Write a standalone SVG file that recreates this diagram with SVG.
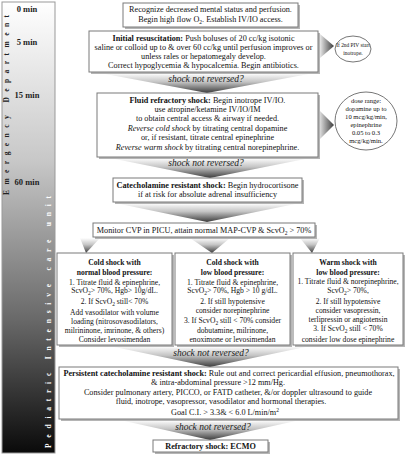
<svg xmlns="http://www.w3.org/2000/svg" width="407" height="456" viewBox="0 0 407 456">
<defs>
<linearGradient id="side" x1="0" y1="0" x2="0" y2="1">
<stop offset="0" stop-color="#ffffff"/>
<stop offset="0.35" stop-color="#c8c8c8"/>
<stop offset="0.7" stop-color="#6a6a6a"/>
<stop offset="1" stop-color="#0a0a0a"/>
</linearGradient>
<linearGradient id="dg" x1="0" y1="0" x2="0" y2="1">
<stop offset="0" stop-color="#ffffff"/>
<stop offset="0.45" stop-color="#c4c4c4"/>
<stop offset="1" stop-color="#3c3c3c"/>
</linearGradient>
<linearGradient id="rg" x1="0" y1="0" x2="1" y2="0">
<stop offset="0" stop-color="#e8e8e8"/>
<stop offset="1" stop-color="#3c3c3c"/>
</linearGradient>
<style>
text{font-family:"Liberation Serif","Times New Roman",serif;fill:#111;}
.t{font-size:8.2px;text-anchor:middle;}
.c{font-size:7.6px;text-anchor:middle;}
.b{font-weight:bold;}
.i{font-style:italic;}
.snr{font-size:9.5px;font-style:italic;text-anchor:middle;fill:#222;}
.box{fill:#fff;stroke:#7a7a7a;stroke-width:1;}
.sh{fill:#b5b5b5;}
.min{font-size:8.5px;font-weight:bold;text-anchor:middle;fill:#222;}
.ed{font-size:7.5px;font-weight:bold;fill:#222;}
.pi{font-size:7.5px;font-weight:bold;fill:#fff;}
.sub{font-size:5.5px;}
.arw{fill:url(#dg);}
.arr{fill:url(#rg);}
.ell{fill:#fff;stroke:#777;stroke-width:1;}
.e{font-size:6.6px;text-anchor:middle;}
.es{font-size:5.4px;text-anchor:middle;}
</style>
</defs>

<g id="sidebar">
<rect x="2" y="2" width="53" height="451" fill="url(#side)" stroke="#999" stroke-width="1"/>
<text class="min" x="27" y="12">0 min</text>
<text class="min" x="27" y="45">5 min</text>
<text class="min" x="27" y="98">15 min</text>
<text class="min" x="27" y="185">60 min</text>
<text class="ed" transform="translate(8.5,195) rotate(-90)" textLength="180" lengthAdjust="spacing">Emergency Department</text>
<text class="pi" transform="translate(50.5,448) rotate(-90)" textLength="252" lengthAdjust="spacing">Pediatric Intensive care unit</text>
</g>

<g id="connectors">
<path class="arw" d="M100,73 Q207,76 314,73 L207,93 Z"/>
<path class="arw" d="M110,158 Q210,161 310,158 L210,178 Z"/>
<path class="arw" d="M115,203 Q207,206 300,203 L207,222 Z"/>
<path class="arw" d="M80,238 L100,238 L86,253 Z"/>
<path class="arw" d="M190,238 L230,238 L212,253 Z"/>
<path class="arw" d="M300,238 L320,238 L312,253 Z"/>
<path class="arw" d="M110,346 Q210,349 310,346 L210,367 Z"/>
<path class="arw" d="M120,420 Q210,423 300,420 L210,440 Z"/>
<path class="arr" d="M320,34 L320,58 L334,46 Z"/>
<path class="arr" d="M319,110 L319,140 L334,125 Z"/>
<text class="snr" x="206" y="82">shock not reversed?</text>
<text class="snr" x="206" y="166">shock not reversed?</text>
<text class="snr" x="211" y="356">shock not reversed?</text>
<text class="snr" x="213" y="430">shock not reversed?</text>
</g>

<g id="recognize">
<rect class="sh" x="125" y="5" width="175" height="24"/>
<rect class="box" x="123" y="3" width="175" height="24"/>
<text class="t" x="210.5" y="12">Recognize decreased mental status and perfusion.</text>
<text class="t" x="210.5" y="22">Begin high flow O<tspan class="sub" dy="2">2</tspan><tspan dy="-2">.  Establish IV/IO access.</tspan></text>
</g>

<g id="initial">
<rect class="sh" x="91" y="33" width="229" height="41"/>
<rect class="box" x="89" y="31" width="229" height="41"/>
<text class="t" x="203.5" y="41"><tspan class="b">Initial resuscitation:</tspan> Push boluses of 20 cc/kg isotonic</text>
<text class="t" x="203.5" y="50">saline or colloid up to &amp; over 60 cc/kg until perfusion improves or</text>
<text class="t" x="203.5" y="59">unless rales or hepatomegaly develop.</text>
<text class="t" x="203.5" y="68">Correct hypoglycemia &amp; hypocalcemia. Begin antibiotics.</text>
</g>

<g id="piv">
<ellipse class="ell" cx="353" cy="49" rx="18" ry="13"/>
<text class="es" x="353" y="47">If 2nd PIV start</text>
<text class="es" x="353" y="55">inotrope.</text>
</g>

<g id="fluid">
<rect class="sh" x="99" y="95" width="221" height="64"/>
<rect class="box" x="97" y="93" width="221" height="64"/>
<text class="t" x="207.5" y="103"><tspan class="b">Fluid refractory shock:</tspan> Begin inotrope IV/IO.</text>
<text class="t" x="207.5" y="112">use atropine/ketamine IV/IO/IM</text>
<text class="t" x="207.5" y="121">to obtain central access &amp; airway if needed.</text>
<text class="t" x="207.5" y="131"><tspan class="i">Reverse cold shock</tspan> by titrating central dopamine</text>
<text class="t" x="207.5" y="140">or, if resistant, titrate central epinephrine</text>
<text class="t" x="207.5" y="150"><tspan class="i">Reverse warm shock</tspan> by titrating central  norepinephrine.</text>
</g>

<g id="dose">
<ellipse class="ell" cx="366" cy="121" rx="31" ry="29"/>
<text class="e" x="366" y="103">dose range:</text>
<text class="e" x="366" y="111">dopamine up to</text>
<text class="e" x="366" y="119">10 mcg/kg/min,</text>
<text class="e" x="366" y="127">epinephrine</text>
<text class="e" x="366" y="135">0.05 to 0.3</text>
<text class="e" x="366" y="143">mcg/kg/min.</text>
</g>

<g id="catechol">
<rect class="sh" x="115" y="180" width="189" height="24"/>
<rect class="box" x="113" y="178" width="189" height="24"/>
<text class="t" x="207.5" y="188"><tspan class="b">Catecholamine resistant shock:</tspan> Begin hydrocortisone</text>
<text class="t" x="207.5" y="197">if at risk for absolute adrenal insufficiency</text>
</g>

<g id="monitor">
<rect class="sh" x="95" y="225" width="222" height="14"/>
<rect class="box" x="93" y="223" width="222" height="14"/>
<text class="t" x="204" y="233">Monitor CVP in PICU, attain normal MAP-CVP &amp; ScvO<tspan class="sub" dy="2">2</tspan><tspan dy="-2"> &gt; 70%</tspan></text>
</g>

<g id="cold-normal">
<rect class="sh" x="59" y="255" width="115" height="92"/>
<rect class="box" x="57" y="253" width="115" height="92"/>
<text class="c b" x="114.5" y="265">Cold shock with</text>
<text class="c b" x="114.5" y="275">normal blood pressure:</text>
<text class="c" x="114.5" y="285">1. Titrate fluid &amp; epinephrine,</text>
<text class="c" x="114.5" y="293">ScvO<tspan class="sub" dy="1.5">2</tspan><tspan dy="-1.5">&gt; 70%, Hgb&gt; 10g/dL.</tspan></text>
<text class="c" x="114.5" y="304">2. If ScvO<tspan class="sub" dy="1.5">2</tspan><tspan dy="-1.5"> still&lt; 70%</tspan></text>
<text class="c" x="114.5" y="315">Add vasodilator with volume</text>
<text class="c" x="114.5" y="324">loading (nitrosovasodilators,</text>
<text class="c" x="114.5" y="333">milrininone, imrinone, &amp; others)</text>
<text class="c" x="114.5" y="342">Consider levosimendan</text>
</g>

<g id="cold-low">
<rect class="sh" x="177" y="255" width="115" height="92"/>
<rect class="box" x="175" y="253" width="115" height="92"/>
<text class="c b" x="232.5" y="265">Cold shock with</text>
<text class="c b" x="232.5" y="275">low blood pressure:</text>
<text class="c" x="232.5" y="285">1. Titrate fluid &amp; epinephrine,</text>
<text class="c" x="232.5" y="293">ScvO<tspan class="sub" dy="1.5">2</tspan><tspan dy="-1.5">&gt; 70%, Hgb &gt; 10 g/dL.</tspan></text>
<text class="c" x="232.5" y="304">2. If still hypotensive</text>
<text class="c" x="232.5" y="313">consider norepinephrine</text>
<text class="c" x="232.5" y="323">3.  If ScvO<tspan class="sub" dy="1.5">2</tspan><tspan dy="-1.5"> still &lt; 70% consider</tspan></text>
<text class="c" x="232.5" y="333">dobutamine, milrinone,</text>
<text class="c" x="232.5" y="342">enoximone or levosimendan</text>
</g>

<g id="warm-low">
<rect class="sh" x="295" y="255" width="110" height="92"/>
<rect class="box" x="293" y="253" width="110" height="92"/>
<text class="c b" x="348" y="265">Warm shock with</text>
<text class="c b" x="348" y="275">low blood pressure:</text>
<text class="c" x="348" y="284">1. Titrate fluid &amp; norepinephrine,</text>
<text class="c" x="348" y="293">ScvO<tspan class="sub" dy="1.5">2</tspan><tspan dy="-1.5">&gt; 70%,</tspan></text>
<text class="c" x="348" y="304">2. If still hypotensive</text>
<text class="c" x="348" y="313">consider vasopressin,</text>
<text class="c" x="348" y="322">terlipressin or angiotensin</text>
<text class="c" x="348" y="331">3. If ScvO<tspan class="sub" dy="1.5">2</tspan><tspan dy="-1.5"> still &lt; 70%</tspan></text>
<text class="c" x="348" y="342">consider low dose epinephrine</text>
</g>

<g id="persistent">
<rect class="sh" x="61" y="369" width="339" height="52"/>
<rect class="box" x="59" y="367" width="339" height="52"/>
<text class="t" x="229" y="376"><tspan class="b">Persistent catecholamine resistant shock:</tspan> Rule out and correct pericardial effusion, pneumothorax,</text>
<text class="t" x="218" y="385">&amp; intra-abdominal pressure &gt;12 mm/Hg.</text>
<text class="t" x="228" y="395">Consider pulmonary artery, PICCO, or FATD catheter, &amp;/or doppler ultrasound to guide</text>
<text class="t" x="221" y="404">fluid, inotrope, vasopressor, vasodilator and hormonal therapies.</text>
<text class="t" x="225" y="415">Goal C.I. &gt; 3.3&amp; &lt; 6.0 L/min/m<tspan class="sub" dy="-3">2</tspan></text>
</g>

<g id="refractory">
<rect class="sh" x="155" y="442" width="115" height="12"/>
<rect class="box" x="153" y="440" width="115" height="12"/>
<text class="t b" x="210.5" y="449">Refractory shock: ECMO</text>
</g>
</svg>
